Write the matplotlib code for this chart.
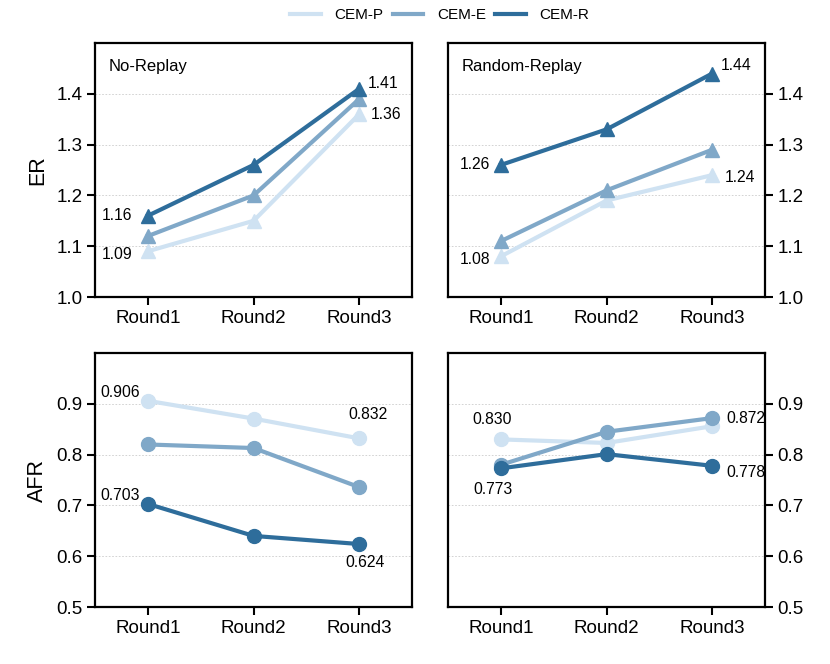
import matplotlib
matplotlib.use("Agg")
import matplotlib.pyplot as plt
from matplotlib.lines import Line2D

plt.rcParams['font.family'] = ['Liberation Sans', 'DejaVu Sans']

rounds = ["Round1", "Round2", "Round3"]
methods = ["CEM-P", "CEM-E", "CEM-R"]
colors = ["#cfe2f2", "#80a8c8", "#2e6d9b"]

er_no = {"CEM-P": [1.09, 1.15, 1.36], "CEM-E": [1.12, 1.20, 1.39], "CEM-R": [1.16, 1.26, 1.41]}
er_rand = {"CEM-P": [1.08, 1.19, 1.24], "CEM-E": [1.11, 1.21, 1.29], "CEM-R": [1.26, 1.33, 1.44]}
afr_no = {"CEM-P": [0.906, 0.871, 0.832], "CEM-E": [0.820, 0.813, 0.736], "CEM-R": [0.703, 0.640, 0.624]}
afr_rand = {"CEM-P": [0.830, 0.823, 0.856], "CEM-E": [0.780, 0.845, 0.872], "CEM-R": [0.773, 0.801, 0.778]}

er_ticks = [1.0, 1.1, 1.2, 1.3, 1.4]
afr_ticks = [0.5, 0.6, 0.7, 0.8, 0.9]

fig = plt.figure(figsize=(8.3, 6.64), dpi=100)
W = 0.382
H = 0.3825
ax_tl = fig.add_axes([0.1145, 0.5527, W, H])
ax_tr = fig.add_axes([0.5398, 0.5527, W, H])
ax_bl = fig.add_axes([0.1145, 0.0858, W, H])
ax_br = fig.add_axes([0.5398, 0.0858, W, H])

x = list(range(len(rounds)))

def setup(ax, data, marker, ticks, ylim, right=False, title=None):
    for m, c in zip(methods, colors):
        ax.plot(x, data[m], color=c, lw=3, marker=marker, ms=10, zorder=3)
    ax.set_xlim(-0.5, 2.5)
    ax.set_ylim(*ylim)
    ax.set_yticks(ticks)
    ax.set_yticklabels([f"{t:.1f}" for t in ticks])
    ax.set_xticks(x)
    ax.set_xticklabels(rounds)
    ax.yaxis.grid(True, ls=(0, (2, 2)), color="#cccccc", lw=0.6)
    ax.set_axisbelow(True)
    ax.tick_params(axis="both", direction="out", length=6, width=1.5, labelsize=13.5,
                   colors="black", pad=3)
    for s in ax.spines.values():
        s.set_linewidth(1.6)
    if right:
        ax.yaxis.tick_right()
        ax.yaxis.set_label_position("right")
    if title:
        ax.text(0.042, 0.906, title, transform=ax.transAxes, fontsize=12, ha="left", va="center")

setup(ax_tl, er_no, "^", er_ticks, (1.0, 1.5), title="No-Replay")
setup(ax_tr, er_rand, "^", er_ticks, (1.0, 1.5), right=True, title="Random-Replay")
setup(ax_bl, afr_no, "o", afr_ticks, (0.5, 1.0))
setup(ax_br, afr_rand, "o", afr_ticks, (0.5, 1.0), right=True)

ax_tl.set_ylabel("ER", fontsize=15.5, labelpad=6)
ax_bl.set_ylabel("AFR", fontsize=15.5, labelpad=6)

def ann(ax, data, m, i, fmt, dx, dy, ha, va="center"):
    v = data[m][i]
    ax.annotate(fmt.format(v), (i, v), xytext=(dx, dy), textcoords="offset points",
                ha=ha, va=va, fontsize=11.3, zorder=5)

# ER No-Replay
ann(ax_tl, er_no, "CEM-R", 0, "{:.2f}", -11, 0, "right")
ann(ax_tl, er_no, "CEM-P", 0, "{:.2f}", -11, -2, "right")
ann(ax_tl, er_no, "CEM-R", 2, "{:.2f}", 6, 4, "left")
ann(ax_tl, er_no, "CEM-P", 2, "{:.2f}", 8, 0, "left")
# ER Random
ann(ax_tr, er_rand, "CEM-R", 0, "{:.2f}", -8, 0, "right")
ann(ax_tr, er_rand, "CEM-P", 0, "{:.2f}", -8, -2, "right")
ann(ax_tr, er_rand, "CEM-R", 2, "{:.2f}", 6, 6, "left")
ann(ax_tr, er_rand, "CEM-P", 2, "{:.2f}", 9, -2, "left")
# AFR No-Replay
ann(ax_bl, afr_no, "CEM-P", 0, "{:.3f}", -6, 6, "right")
ann(ax_bl, afr_no, "CEM-P", 2, "{:.3f}", 6, 17, "center")
ann(ax_bl, afr_no, "CEM-R", 0, "{:.3f}", -6, 6, "right")
ann(ax_bl, afr_no, "CEM-R", 2, "{:.3f}", 4, -13, "center")
# AFR Random
ann(ax_br, afr_rand, "CEM-P", 0, "{:.3f}", -6, 14, "center")
ann(ax_br, afr_rand, "CEM-R", 0, "{:.3f}", -6, -15, "center")
ann(ax_br, afr_rand, "CEM-E", 2, "{:.3f}", 10, 0, "left")
ann(ax_br, afr_rand, "CEM-R", 2, "{:.3f}", 10, -5, "left")

handles = [Line2D([0], [0], color=c, lw=3) for c in colors]
fig.legend(handles, methods, loc="center", bbox_to_anchor=(0.53, 0.977), ncol=3,
           frameon=False, fontsize=11, handlelength=2.0, handletextpad=0.9,
           columnspacing=0.6)

fig.savefig("out.png", dpi=100)
